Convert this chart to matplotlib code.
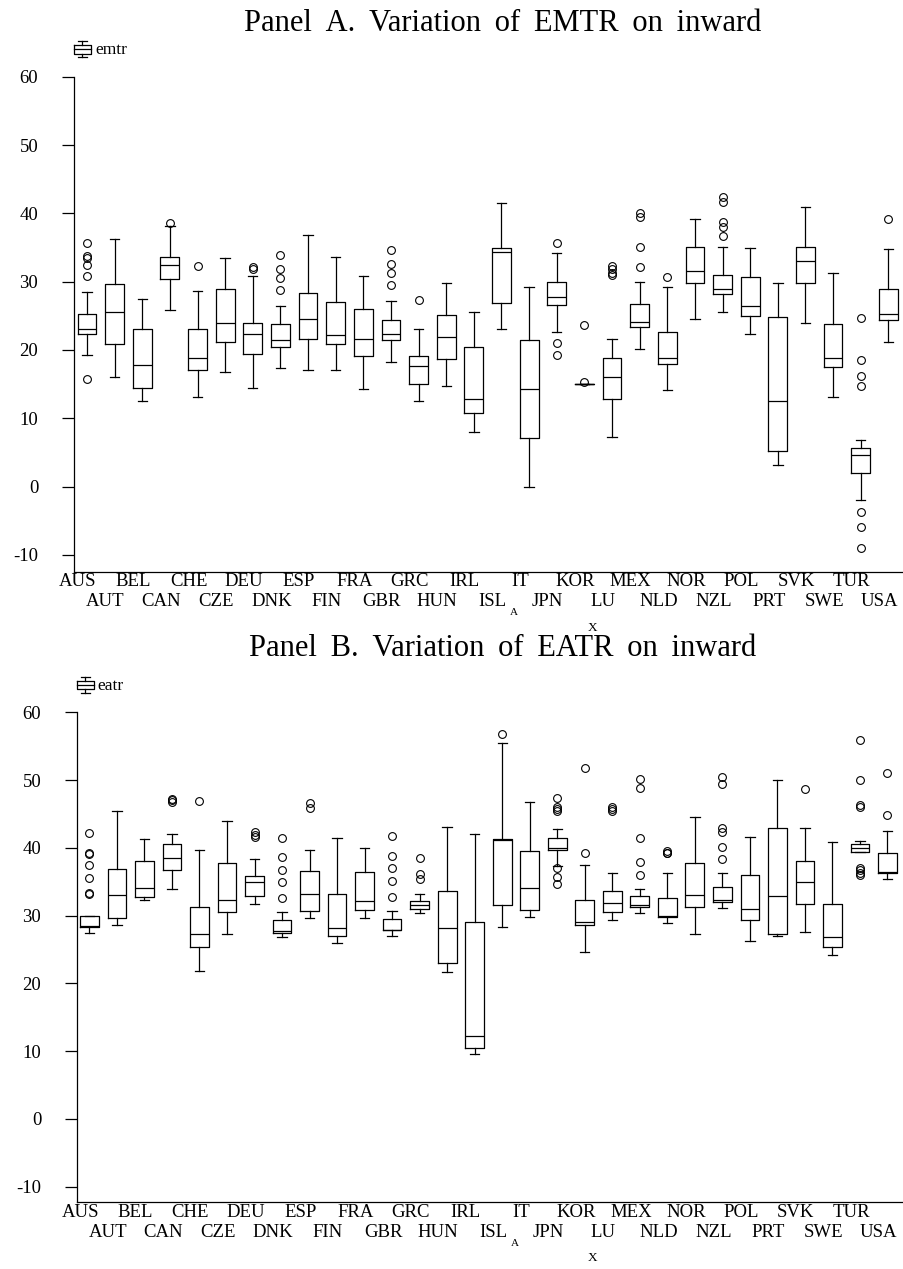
import numpy as np
import matplotlib
matplotlib.use("Agg")
import matplotlib.pyplot as plt
import matplotlib.transforms as mtransforms
from matplotlib.lines import Line2D

plt.rcParams["font.family"] = ["Liberation Serif", "DejaVu Serif"]

countries = ["AUS", "AUT", "BEL", "CAN", "CHE", "CZE", "DEU", "DNK", "ESP", "FIN",
             "FRA", "GBR", "GRC", "HUN", "IRL", "ISL", "IT", "JPN", "KOR", "LU",
             "MEX", "NLD", "NOR", "NZL", "POL", "PRT", "SVK", "SWE", "TUR", "USA"]

# Panel A: EMTR box statistics
emtr_whislo = [19.2, 16.1, 12.6, 25.9, 13.1, 16.8, 14.4, 17.3, 17.1, 17.0,
               14.3, 18.3, 12.5, 14.7, 8.05, 23.0, 0.0, 22.7, 15.0, 7.2,
               20.1, 14.2, 24.55, 25.5, 22.3, 3.2, 24.0, 13.1, -2.0, 21.2]
emtr_q1 = [22.3, 20.9, 14.4, 30.4, 17.0, 21.2, 19.4, 20.5, 21.6, 20.9,
           19.1, 21.4, 15.0, 18.7, 10.8, 26.9, 7.1, 26.6, 15.0, 12.8,
           23.4, 18.0, 29.8, 28.2, 25.0, 5.2, 29.8, 17.5, 2.0, 24.45]
emtr_med = [23.1, 25.5, 17.75, 32.5, 18.8, 24.0, 22.3, 21.5, 24.5, 22.2,
            21.55, 22.3, 17.6, 21.9, 12.8, 34.4, 14.3, 27.8, 15.0, 16.05,
            24.1, 18.9, 31.6, 29.0, 26.5, 12.6, 33.0, 18.9, 4.65, 25.3]
emtr_q3 = [25.3, 29.7, 23.0, 33.6, 23.0, 29.0, 24.0, 23.8, 28.4, 27.0,
           26.0, 24.4, 19.1, 25.1, 20.4, 35.0, 21.4, 30.0, 15.0, 18.8,
           26.75, 22.6, 35.1, 31.0, 30.7, 24.9, 35.1, 23.85, 5.7, 29.0]
emtr_whishi = [28.5, 36.3, 27.5, 38.1, 28.7, 33.5, 30.9, 26.4, 36.9, 33.6,
               30.8, 27.1, 23.1, 29.8, 25.6, 41.5, 29.25, 34.2, 15.0, 21.55,
               30.0, 29.25, 39.2, 35.1, 34.95, 29.8, 40.9, 31.3, 6.8, 34.8]
emtr_fliers = [[35.6, 33.8, 33.5, 32.4, 30.8, 15.7], [], [], [38.6], [32.3], [],
               [32.2, 31.9], [33.9, 31.9, 30.5, 28.8], [], [], [],
               [34.6, 32.6, 31.2, 29.55], [27.3], [], [], [], [],
               [35.7, 21.0, 19.2], [23.7, 15.3], [32.3, 31.8, 31.3, 31.0],
               [40.05, 39.5, 35.1, 32.2], [30.7], [], [42.4, 41.7, 38.8, 38.0, 36.7],
               [], [], [], [], [24.7, 18.6, 16.2, 14.8, -3.75, -5.9, -9.05], [39.2]]

# Panel B: EATR box statistics
eatr_whislo = [27.45, 28.55, 32.35, 34.0, 21.9, 27.35, 31.7, 26.8, 29.7, 26.0,
               29.7, 27.05, 30.4, 21.7, 9.6, 28.3, 29.75, 37.3, 24.65, 29.4,
               30.4, 28.9, 27.35, 31.1, 26.2, 27.05, 27.65, 24.2, 39.4, 35.4]
eatr_q1 = [28.3, 29.7, 32.7, 36.8, 25.4, 30.6, 32.9, 27.5, 30.7, 27.05,
           30.8, 27.85, 31.0, 23.0, 10.4, 31.5, 30.9, 39.7, 28.6, 30.5,
           31.3, 29.8, 31.3, 32.05, 29.3, 27.35, 31.7, 25.35, 39.4, 36.3]
eatr_med = [28.4, 33.1, 34.1, 38.5, 27.3, 32.3, 35.0, 27.8, 33.2, 28.2,
            32.1, 27.9, 31.5, 28.2, 12.2, 41.1, 34.1, 40.0, 29.0, 31.9,
            31.5, 30.0, 33.05, 32.25, 31.0, 32.95, 35.0, 26.85, 40.0, 36.4]
eatr_q3 = [30.0, 36.9, 38.1, 40.6, 31.3, 37.7, 35.8, 29.4, 36.6, 33.2,
           36.4, 29.5, 32.1, 33.6, 29.0, 41.3, 39.6, 41.5, 32.25, 33.6,
           32.85, 32.55, 37.8, 34.2, 36.0, 43.0, 38.1, 31.65, 40.55, 39.3]
eatr_whishi = [30.0, 45.5, 41.3, 42.0, 39.7, 44.0, 38.4, 30.5, 39.7, 41.45,
               40.05, 30.7, 33.2, 43.1, 42.0, 55.5, 46.8, 42.85, 37.4, 36.3,
               33.9, 36.3, 44.55, 36.3, 41.6, 50.0, 42.9, 40.9, 41.0, 42.55]
eatr_fliers = [[42.2, 39.2, 39.1, 37.4, 35.5, 33.3, 33.2], [], [], [47.2, 47.0, 46.8],
               [46.9], [], [42.3, 41.9, 41.6], [41.5, 38.65, 36.8, 34.9, 32.55],
               [46.6, 45.9], [], [], [41.7, 38.8, 37.0, 35.15, 32.75],
               [38.5, 36.2, 35.35], [], [], [56.8], [],
               [47.3, 46.1, 45.75, 45.5, 37.1, 35.75, 34.7], [51.75, 39.2],
               [46.1, 45.8, 45.5], [50.1, 48.9, 41.5, 37.85, 36.0], [39.6, 39.3, 39.2],
               [], [50.5, 49.4, 43.0, 42.3, 40.1, 38.35], [], [], [48.75], [],
               [55.9, 50.0, 46.25, 46.0, 37.1, 36.8, 36.3, 36.0], [51.0, 44.9]]

y_ticks = [-10, 0, 10, 20, 30, 40, 50, 60]

W, H = 904, 1269
fig = plt.figure(figsize=(W / 100, H / 100), dpi=100)


def px_box(left, top, right, bottom):
    # pixel rectangle -> figure fraction [l, b, w, h]
    return [left / W, 1 - bottom / H, (right - left) / W, (bottom - top) / H]


def legend_glyph(x0, y_top, label):
    # small boxplot icon + label, drawn in pixel coordinates
    def P(x, y):
        return x / W, 1 - y / H
    xc = x0 + 8.5
    kw = dict(color="black", lw=0.9, transform=fig.transFigure)
    (a, b), (c, d) = P(x0, y_top + 4.5), P(x0 + 17, y_top + 12.8)
    fig.add_artist(Line2D([a, c, c, a, a], [b, b, d, d, b], **kw))
    fig.add_artist(Line2D([a, c], [(b + d) / 2] * 2, **kw))
    fig.add_artist(Line2D([P(xc, 0)[0]] * 2, [P(0, y_top)[1], b], **kw))
    fig.add_artist(Line2D([P(xc, 0)[0]] * 2, [d, P(0, y_top + 16.6)[1]], **kw))
    for yy in (y_top, y_top + 16.6):
        fig.add_artist(Line2D([P(xc - 4.5, 0)[0], P(xc + 4.5, 0)[0]],
                              [P(0, yy)[1]] * 2, **kw))
    fig.text(P(x0 + 21, 0)[0], P(0, y_top + 9)[1], label, fontsize=12.5,
             va="center", ha="left")


def draw_panel(rect, xlim, ylim, whislo, q1, med, q3, whishi, fliers, title, title_y):
    ax = fig.add_axes(rect)
    stats = []
    for i in range(len(countries)):
        stats.append(dict(whislo=whislo[i], q1=q1[i], med=med[i], q3=q3[i],
                          whishi=whishi[i], fliers=fliers[i], label=countries[i]))
    ln = dict(color="black", linewidth=0.9)
    ax.bxp(stats, positions=np.arange(len(countries)), widths=0.68, capwidths=0.34,
           boxprops=ln, whiskerprops=ln, capprops=ln,
           medianprops=dict(color="black", linewidth=0.9),
           flierprops=dict(marker="o", markersize=5.6, markerfacecolor="none",
                           markeredgecolor="black", markeredgewidth=0.8),
           manage_ticks=False)
    ax.set_xlim(*xlim)
    ax.set_ylim(*ylim)
    for s in ("top", "right"):
        ax.spines[s].set_visible(False)
    ax.spines["left"].set_linewidth(0.9)
    ax.spines["bottom"].set_linewidth(0.9)
    ax.set_yticks(y_ticks)
    ax.set_yticklabels([str(v) for v in y_ticks])
    ax.tick_params(axis="y", direction="out", length=8.8, width=0.9, pad=17,
                   labelsize=13.5)
    ax.set_xticks([])

    # two staggered rows of country labels under the axis
    trans = mtransforms.blended_transform_factory(ax.transData, ax.transAxes)
    for i, name in enumerate(countries):
        row_dy = -10 if i % 2 == 0 else -30
        t = mtransforms.offset_copy(trans, fig=fig, x=-9, y=row_dy, units="dots")
        ax.text(i, 0, name, transform=t, ha="center", va="center", fontsize=13.5)
    t = mtransforms.offset_copy(trans, fig=fig, x=0, y=-41, units="dots")
    ax.text(15.45, 0, "A", transform=t, ha="center", va="center", fontsize=8)
    t = mtransforms.offset_copy(trans, fig=fig, x=0, y=-56, units="dots")
    ax.text(18.3, 0, "X", transform=t, ha="center", va="center", fontsize=9.5)

    spaced = title.replace(" ", " \u2009")
    fig.text(503 / W, 1 - title_y / H, spaced, fontsize=22, ha="center", va="baseline")
    return ax


draw_panel(px_box(74, 76.7, 903, 571.7), (-0.47, 29.53), (-12.45, 60),
           emtr_whislo, emtr_q1, emtr_med, emtr_q3, emtr_whishi, emtr_fliers,
           "Panel A. Variation of EMTR on inward", 31)
legend_glyph(74, 40.7, "emtr")

draw_panel(px_box(77, 712.3, 904, 1202.3), (-0.45, 29.6), (-12.3, 60),
           eatr_whislo, eatr_q1, eatr_med, eatr_q3, eatr_whishi, eatr_fliers,
           "Panel B. Variation of EATR on inward", 656)
legend_glyph(76.7, 676.7, "eatr")

fig.savefig("out.png", dpi=100)
